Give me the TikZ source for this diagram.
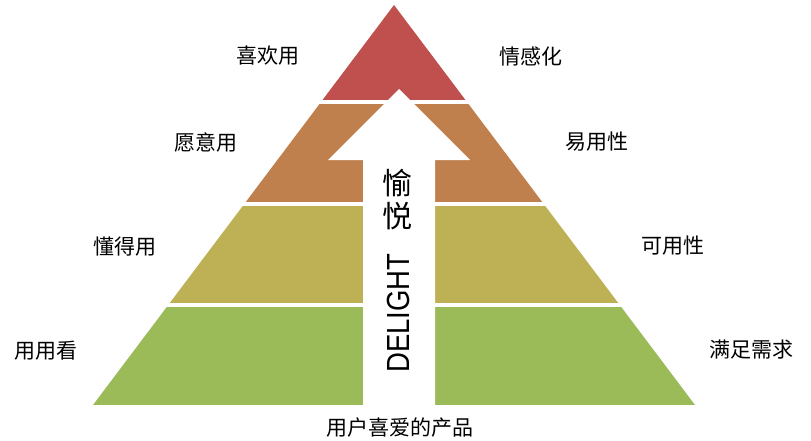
\documentclass[tikz,border=0pt]{standalone}
\usepackage{fontspec}
\setmainfont{Noto Sans CJK SC}
\newfontfamily\latinsans{Liberation Sans}
\definecolor{lvred}{RGB}{192,80,77}
\definecolor{lvorange}{RGB}{192,128,78}
\definecolor{lvolive}{RGB}{190,176,85}
\definecolor{lvgreen}{RGB}{155,187,89}
\begin{document}
\begin{tikzpicture}[x=1pt,y=-1pt,
  lbl/.style={inner sep=0pt,font=\fontsize{21}{24}\selectfont},
  bigch/.style={inner sep=0pt,font=\fontsize{30}{32}\selectfont},
]
\useasboundingbox (0,0) rectangle (811,441);
% pyramid bands
\begin{scope}
  \clip (394,5) -- (695,405) -- (93,405) -- cycle;
  \fill[lvred]    (0,0)   rectangle (811,100.5);
  \fill[lvorange] (0,104.5) rectangle (811,201.5);
  \fill[lvolive]  (0,205.5) rectangle (811,303);
  \fill[lvgreen]  (0,307) rectangle (811,405);
\end{scope}
% arrow
\fill[white] (363,405) -- (363,160) -- (328,160) -- (399,89) -- (470,160) -- (435,160) -- (435,405) -- cycle;
% arrow texts
\node[bigch] (yu) at (397,183) {愉};
\node[bigch] (yue) at (397,216) {悦};
\node[inner sep=0pt,rotate=90,font=\latinsans\fontsize{32}{34}\selectfont] (delight) at (398.5,313) {\scalebox{0.86}[1]{DELIGHT}};
% labels left
\node[lbl] (l1) at (268,56) {喜欢用};
\node[lbl] (l2) at (206,142) {愿意用};
\node[lbl] (l3) at (125,247) {懂得用};
\node[lbl] (l4) at (46,351) {用用看};
% labels right
\node[lbl] (r1) at (531,56) {情感化};
\node[lbl] (r2) at (597,142) {易用性};
\node[lbl] (r3) at (673,246) {可用性};
\node[lbl] (r4) at (751,350) {满足需求};
% bottom
\node[lbl] (bottom) at (400,428) {用户喜爱的产品};
\end{tikzpicture}
\end{document}
